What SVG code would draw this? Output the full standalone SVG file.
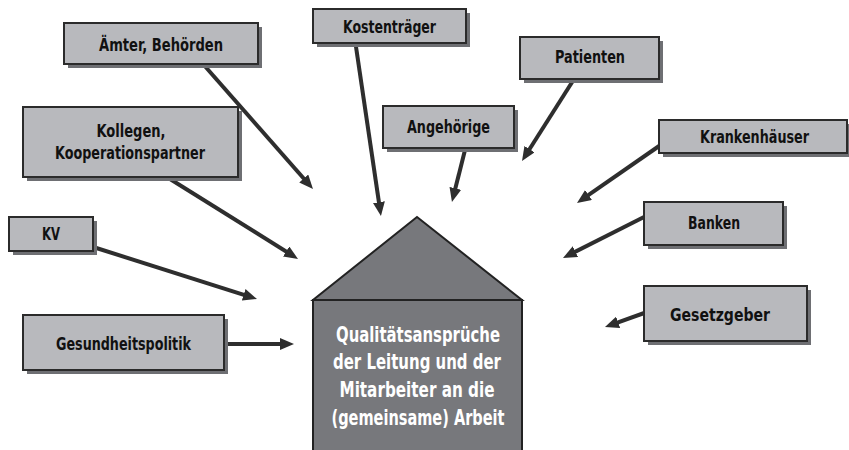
<svg xmlns="http://www.w3.org/2000/svg" width="849" height="450" viewBox="0 0 849 450">
  <defs>
    <marker id="arrow" markerUnits="userSpaceOnUse" viewBox="0 0 14 12" markerWidth="14" markerHeight="12" refX="6" refY="6" orient="auto">
      <path d="M0,0 L14,6 L0,12 z" fill="#2e2e2e"/>
    </marker>
    <style>
      .shadow { fill: #6e6f73; }
      .box { fill: #b8b9bd; stroke: #2b2b2b; stroke-width: 2; }
      .label { font-family: "DejaVu Sans Condensed", "DejaVu Sans", "Liberation Sans", sans-serif; font-stretch: condensed; font-weight: bold; font-size: 17px; fill: #111; text-anchor: middle; }
      .house { fill: #77787c; stroke: #222; stroke-width: 2; }
      .hlabel { font-family: "DejaVu Sans Condensed", "DejaVu Sans", "Liberation Sans", sans-serif; font-stretch: condensed; font-weight: bold; font-size: 21px; fill: #fff; text-anchor: middle; }
      .conn line { stroke: #2e2e2e; stroke-width: 4; marker-end: url(#arrow); }
    </style>
  </defs>
  <rect width="849" height="450" fill="#fff"/>

  <!-- connectors -->
  <g id="connectors" class="conn">
    <line x1="203" y1="64" x2="307.7" y2="183.0"/>
    <line x1="355" y1="40" x2="379.8" y2="208.1"/>
    <line x1="466" y1="146" x2="453.9" y2="194.2"/>
    <line x1="576" y1="76" x2="526.3" y2="154.2"/>
    <line x1="662" y1="144" x2="583.6" y2="198.4"/>
    <line x1="648" y1="215" x2="570.1" y2="254.4"/>
    <line x1="647" y1="312" x2="612.5" y2="324.3"/>
    <line x1="162" y1="174" x2="291.2" y2="254.7"/>
    <line x1="90" y1="246" x2="249.4" y2="296.6"/>
    <line x1="222" y1="344" x2="286" y2="344"/>
  </g>

  <!-- central house -->
  <g id="quality-house">
    <rect class="house" x="313" y="300" width="209" height="155"/>
    <polygon class="house" points="417,217 522,300 313,300"/>
    <text class="hlabel" x="418" y="342" textLength="164" lengthAdjust="spacingAndGlyphs">Qualitätsansprüche</text>
    <text class="hlabel" x="417" y="369" textLength="168" lengthAdjust="spacingAndGlyphs">der Leitung und der</text>
    <text class="hlabel" x="417" y="397" textLength="155" lengthAdjust="spacingAndGlyphs">Mitarbeiter an die</text>
    <text class="hlabel" x="418" y="425" textLength="173" lengthAdjust="spacingAndGlyphs">(gemeinsame) Arbeit</text>
  </g>

  <g id="aemter">
    <rect class="shadow" x="68" y="27" width="194" height="41"/>
    <rect class="box" x="64" y="23" width="194" height="41"/>
    <text class="label" x="161" y="51" textLength="124" lengthAdjust="spacingAndGlyphs">Ämter, Behörden</text>
  </g>

  <g id="kollegen">
    <rect class="shadow" x="27" y="111" width="215" height="70"/>
    <rect class="box" x="23" y="107" width="215" height="70"/>
    <text class="label" x="131" y="137" textLength="69" lengthAdjust="spacingAndGlyphs">Kollegen,</text>
    <text class="label" x="130" y="159" textLength="150" lengthAdjust="spacingAndGlyphs">Kooperationspartner</text>
  </g>

  <g id="kostentraeger">
    <rect class="shadow" x="317" y="13" width="153" height="34"/>
    <rect class="box" x="313" y="9" width="153" height="34"/>
    <text class="label" x="389.5" y="33" textLength="93" lengthAdjust="spacingAndGlyphs">Kostenträger</text>
  </g>

  <g id="patienten">
    <rect class="shadow" x="524" y="41" width="139" height="42"/>
    <rect class="box" x="520" y="37" width="139" height="42"/>
    <text class="label" x="590" y="63" textLength="70" lengthAdjust="spacingAndGlyphs">Patienten</text>
  </g>

  <g id="angehoerige">
    <rect class="shadow" x="387" y="110" width="131" height="42"/>
    <rect class="box" x="383" y="106" width="131" height="42"/>
    <text class="label" x="448.5" y="133" textLength="83" lengthAdjust="spacingAndGlyphs">Angehörige</text>
  </g>

  <g id="krankenhaeuser">
    <rect class="shadow" x="663" y="124" width="189" height="33"/>
    <rect class="box" x="659" y="120" width="188" height="33"/>
    <text class="label" x="754.5" y="143" textLength="109" lengthAdjust="spacingAndGlyphs">Krankenhäuser</text>
  </g>

  <g id="banken">
    <rect class="shadow" x="648" y="206" width="139" height="43"/>
    <rect class="box" x="644" y="202" width="139" height="43"/>
    <text class="label" x="714" y="229" textLength="52" lengthAdjust="spacingAndGlyphs">Banken</text>
  </g>

  <g id="gesetzgeber">
    <rect class="shadow" x="648" y="290" width="163" height="55"/>
    <rect class="box" x="644" y="286" width="163" height="55"/>
    <text class="label" x="720" y="321" textLength="100" lengthAdjust="spacingAndGlyphs">Gesetzgeber</text>
  </g>

  <g id="kv">
    <rect class="shadow" x="13" y="221" width="84" height="34"/>
    <rect class="box" x="9" y="217" width="84" height="34"/>
    <text class="label" x="51" y="240" textLength="18" lengthAdjust="spacingAndGlyphs">KV</text>
  </g>

  <g id="gesundheitspolitik">
    <rect class="shadow" x="27" y="319" width="201" height="55"/>
    <rect class="box" x="23" y="315" width="201" height="55"/>
    <text class="label" x="123.5" y="350" textLength="135" lengthAdjust="spacingAndGlyphs">Gesundheitspolitik</text>
  </g>
</svg>
